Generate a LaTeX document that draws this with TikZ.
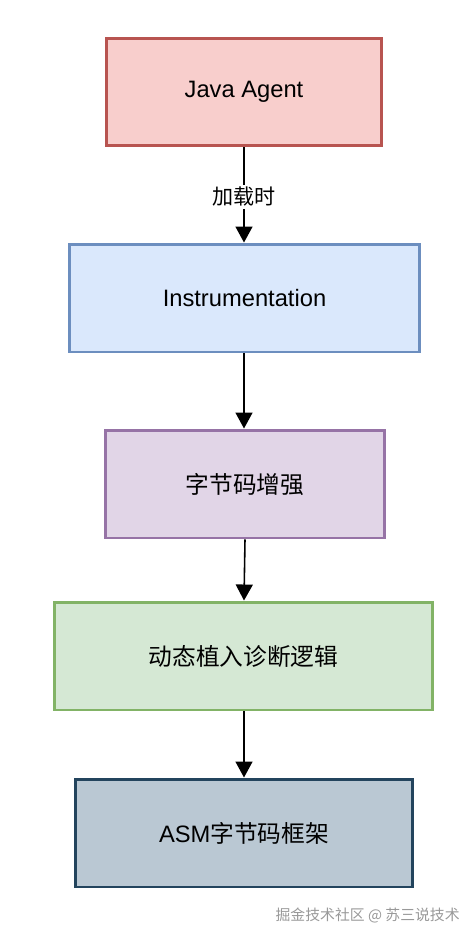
\documentclass[tikz,border=0pt]{standalone}
\usepackage{fontspec}
\setmainfont{Liberation Sans}
\newfontfamily\cjk{Noto Sans CJK SC}
\usetikzlibrary{arrows.meta, positioning}
\definecolor{agentRed}{HTML}{B85450}
\definecolor{agentFill}{HTML}{F8CECC}
\definecolor{instBlue}{HTML}{6C8EBF}
\definecolor{instFill}{HTML}{DAE8FC}
\definecolor{codePurple}{HTML}{9673A6}
\definecolor{codeFill}{HTML}{E1D5E7}
\definecolor{logicGreen}{HTML}{82B366}
\definecolor{logicFill}{HTML}{D5E8D4}
\definecolor{asmSlate}{HTML}{23445D}
\definecolor{asmFill}{HTML}{BAC8D3}

\begin{document}
\begin{tikzpicture}[
    x=0.02cm, y=-0.02cm,
    stagebox/.style={
        draw,
        line width=1.7pt,
        minimum height=2.16cm,
        inner sep=0pt,
        font=\fontsize{13.5}{16}\selectfont
    },
    flow/.style={-{Triangle[length=0.32cm, width=0.34cm]}, line width=0.9pt, black},
    note/.style={font=\cjk\fontsize{12}{14}\selectfont, fill=white, inner sep=1.5pt}
]
\useasboundingbox (0,0) rectangle (476,940);

\node[stagebox, draw=agentRed, fill=agentFill, minimum width=5.52cm] (agent) at (244,92)
{Java Agent};

\node[stagebox, draw=instBlue, fill=instFill, minimum width=7.02cm] (inst) at (244.5,298)
{Instrumentation};

\node[stagebox, draw=codePurple, fill=codeFill, minimum width=5.6cm] (enhance) at (245,484)
{\cjk 字节码增强};

\node[stagebox, draw=logicGreen, fill=logicFill, minimum width=7.58cm] (inject) at (243.5,656)
{\cjk 动态植入诊断逻辑};

\node[stagebox, draw=asmSlate, fill=asmFill, minimum width=6.76cm] (asm) at (244,833)
{ASM{\cjk 字节码框架}};

\draw[flow] (agent.south -| 244,0) -- node[note, pos=0.52] {加载时} (inst.north -| 244,0);
\draw[flow] (inst.south -| 244,0) -- (enhance.north -| 244,0);
\draw[flow] (enhance.south -| 245,0) -- (inject.north -| 244,0);
\draw[flow] (inject.south -| 244,0) -- (asm.north -| 244,0);

\node[font=\cjk\fontsize{8.45}{10}\selectfont, text=gray!80, anchor=east, inner sep=0pt] (mark) at (460,915)
{掘金技术社区 @ 苏三说技术};

\end{tikzpicture}
\end{document}
